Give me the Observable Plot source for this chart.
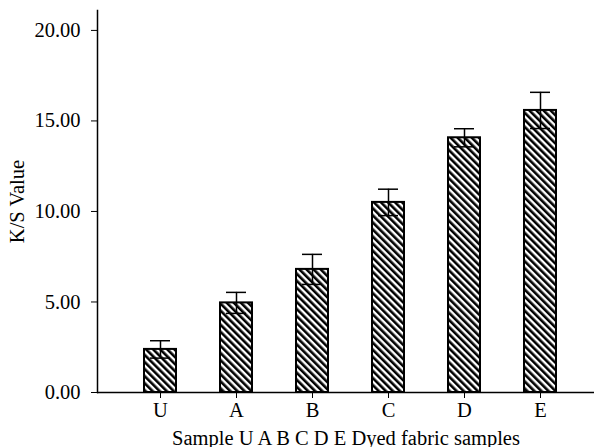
<!DOCTYPE html>
<html>
<head>
<meta charset="utf-8">
<script src="https://cdn.jsdelivr.net/npm/d3@7"></script>
<script src="https://cdn.jsdelivr.net/npm/@observablehq/plot@0.6"></script>
<style>
  html, body { margin: 0; padding: 0; background: #fff; }
</style>
</head>
<body>
<div id="chart"></div>
<script>
const categories = ["U", "A", "B", "C", "D", "E"];
const ksValues = [2.38, 4.95, 6.80, 10.50, 14.07, 15.58];
const errors = [0.48, 0.58, 0.83, 0.73, 0.50, 1.00];
const yTicks = [0, 5, 10, 15, 20];

const data = categories.map((c, i) => ({cat: c, val: ksValues[i], lo: ksValues[i] - errors[i], hi: ksValues[i] + errors[i]}));

const font = "'Liberation Serif', 'Times New Roman', serif";

const chart = Plot.plot({
  width: 594,
  height: 447,
  marginLeft: 97,
  marginRight: 0,
  marginTop: 10,
  marginBottom: 55,
  style: {fontFamily: font, fontSize: "20.5px", color: "black", background: "white"},
  x: {domain: categories, range: [122, 578], paddingInner: 0.58, paddingOuter: 0.29},
  y: {domain: [0, 21.1]},
  marks: [
    Plot.barY(data, {x: "cat", y: "val", fill: "url(#hatch)", stroke: "black", strokeWidth: 2}),
    Plot.ruleX(data, {x: "cat", y1: "lo", y2: "hi", stroke: "black", strokeWidth: 1.5}),
    Plot.tickY(data, {x: "cat", y: "hi", stroke: "black", strokeWidth: 1.5, insetLeft: 6, insetRight: 6}),
    Plot.tickY(data, {x: "cat", y: "lo", stroke: "black", strokeWidth: 1.5, insetLeft: 6, insetRight: 6}),
    Plot.axisY({ticks: yTicks, tickFormat: d3.format(".2f"), tickSize: 6, tickPadding: 11, tickWidth: 1.5, fontSize: 20.5,
      label: "K/S Value", labelAnchor: "center", labelArrow: "none", labelOffset: 88}),
    Plot.axisX({tickSize: 6, tickPadding: 4, tickWidth: 1.5, fontSize: 20.5,
      label: "Sample U A B C D E Dyed fabric samples", labelAnchor: "center", labelArrow: "none", labelOffset: 52}),
    Plot.frame({anchor: "left", stroke: "black", strokeWidth: 1.5}),
    Plot.ruleY([0], {stroke: "black", strokeWidth: 1.5})
  ]
});

const ns = "http://www.w3.org/2000/svg";
const defs = document.createElementNS(ns, "defs");
defs.innerHTML = `<pattern id="hatch" patternUnits="userSpaceOnUse" width="5" height="5" patternTransform="rotate(-45)">
  <rect x="0" y="0" width="5" height="5" fill="white"></rect>
  <rect x="0" y="0" width="2.6" height="5" fill="black"></rect>
</pattern>`;
chart.insertBefore(defs, chart.firstChild);
document.getElementById("chart").appendChild(chart);
</script>
</body>
</html>
